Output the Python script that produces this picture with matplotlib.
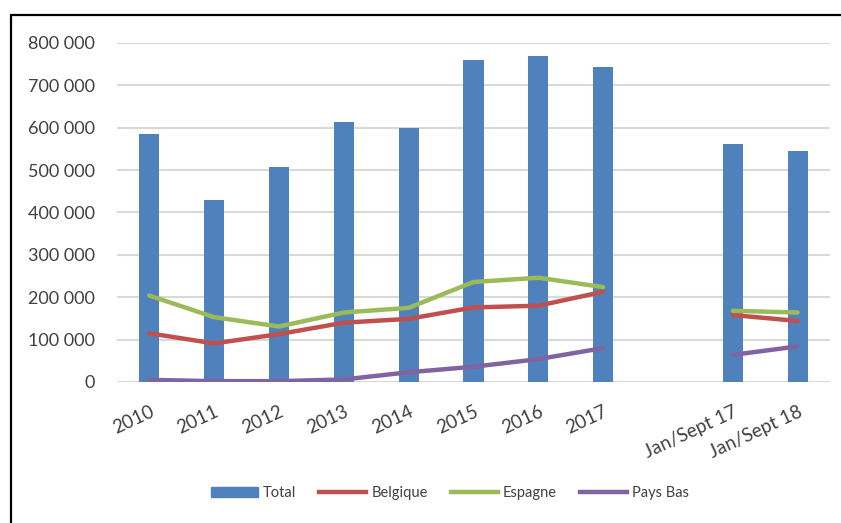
import numpy as np
import matplotlib.pyplot as plt
from matplotlib.patches import Rectangle
from matplotlib.lines import Line2D

plt.rcParams['font.family'] = ['Lato', 'DejaVu Sans']

# --- data ---
categories = ['2010', '2011', '2012', '2013', '2014', '2015', '2016', '2017',
              '', 'Jan/Sept 17', 'Jan/Sept 18']
total = [585000, 429000, 507000, 613000, 599000, 760000, 769000, 743000,
         np.nan, 561000, 545000]
belgique = [115000, 91000, 113000, 140000, 149000, 176000, 180000, 213000,
            np.nan, 158000, 144000]
espagne = [204000, 153000, 131000, 164000, 175000, 236000, 246000, 224000,
           np.nan, 168000, 164000]
pays_bas = [5000, 2000, 2000, 6000, 23000, 36000, 54000, 80000,
            np.nan, 64000, 84000]
y_ticks = [0, 100000, 200000, 300000, 400000, 500000, 600000, 700000, 800000]

c_total = '#4F81BD'
c_bel = '#C0504D'
c_esp = '#9BBB59'
c_pb = '#8064A2'

fig = plt.figure(figsize=(8.41, 5.23), dpi=100)
ax = fig.add_axes([0.139, 0.2696, 0.848, 0.6482])

x = np.arange(len(categories))
ax.bar(x, total, width=0.31, color=c_total, zorder=2)
ax.plot(x, belgique, color=c_bel, lw=3.2, zorder=3, solid_capstyle='round')
ax.plot(x, espagne, color=c_esp, lw=3.2, zorder=3, solid_capstyle='round')
ax.plot(x, pays_bas, color=c_pb, lw=3.2, zorder=3, solid_capstyle='round')

ax.set_xlim(-0.5, len(categories) - 0.5)
ax.set_ylim(0, 800000)
ax.set_yticks(y_ticks)
ax.set_yticklabels([f'{v:,}'.replace(',', ' ') for v in y_ticks],
                   fontsize=13, color='#404040')
ax.set_xticks(x)
ax.set_xticklabels(categories, rotation=25, ha='right', rotation_mode='anchor',
                   fontsize=13.5, color='#404040')
ax.tick_params(axis='y', length=0, pad=16)
ax.tick_params(axis='x', length=0, pad=15)
ax.grid(axis='y', color='#D9D9D9', lw=1.5, zorder=0)
for s in ax.spines.values():
    s.set_visible(False)

handles = [
    Rectangle((0, 0), 1, 1, color=c_total),
    Line2D([0], [0], color=c_bel, lw=3.2),
    Line2D([0], [0], color=c_esp, lw=3.2),
    Line2D([0], [0], color=c_pb, lw=3.2),
]
fig.legend(handles, ['Total', 'Belgique', 'Espagne', 'Pays Bas'],
           loc='center', bbox_to_anchor=(0.535, 0.057), ncol=4, frameon=False,
           fontsize=10.5, handlelength=3.2, handleheight=0.6, columnspacing=1.6,
           handletextpad=0.35, labelcolor='#404040')

# outer frame (cut off at right and bottom like the reference)
fig.patches.append(Rectangle((11 / 841, -0.1), 1.2, 1 - 15 / 523 + 0.1,
                             transform=fig.transFigure, fill=False,
                             edgecolor='black', lw=1.6))

fig.savefig('out.png', dpi=100)
